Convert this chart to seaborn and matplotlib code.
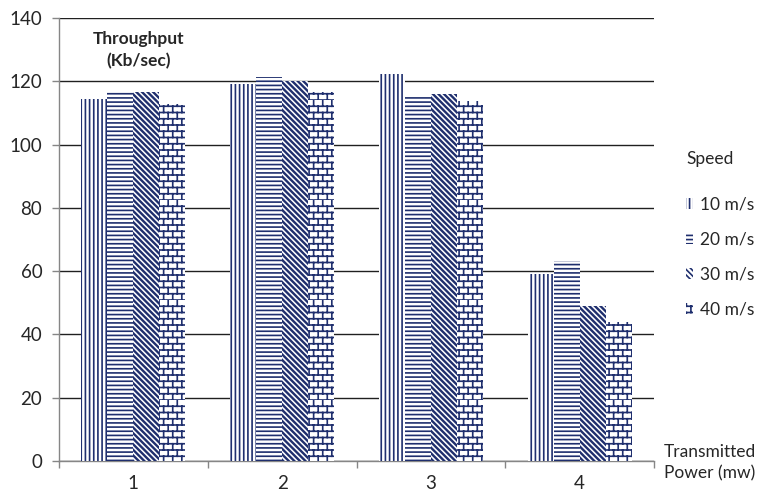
import numpy as np
import pandas as pd
import matplotlib
matplotlib.use("Agg")
import matplotlib.pyplot as plt
import matplotlib.hatch as mhatch
from matplotlib.path import Path
from matplotlib.patches import Patch
import seaborn as sns


# Brick-wall hatch, bound to the 'O' hatch character.
class BrickHatch(mhatch.HatchPatternBase):
    def __init__(self, hatch, density):
        count = hatch.count('O')
        self.rows = 16 * count
        self.cols = 11 * count
        self.num_vertices = (self.rows * 2 + self.rows * self.cols * 2) if count else 0

    def set_vertices_and_codes(self, vertices, codes):
        n, m = self.rows, self.cols
        h = 1.0 / n
        w = 1.0 / m
        k = 0
        for i in range(n):
            y = i * h
            vertices[k] = (0.0, y)
            vertices[k + 1] = (1.0, y)
            codes[k] = Path.MOVETO
            codes[k + 1] = Path.LINETO
            k += 2
            off = 0.0 if i % 2 == 0 else w / 2
            for j in range(m):
                x = (j * w + off) % 1.0
                vertices[k] = (x, y)
                vertices[k + 1] = (x, y + h)
                codes[k] = Path.MOVETO
                codes[k + 1] = Path.LINETO
                k += 2


mhatch._hatch_types = [t for t in mhatch._hatch_types
                       if t is not mhatch.LargeCircles] + [BrickHatch]

# Data
powers = ["1", "2", "3", "4"]
speeds = ["10 m/s", "20 m/s", "30 m/s", "40 m/s"]
thr_10 = [114.3, 119.2, 122.3, 59.1]
thr_20 = [117.0, 121.3, 115.5, 63.3]
thr_30 = [116.6, 120.2, 115.9, 49.0]
thr_40 = [112.8, 116.7, 113.8, 44.0]

df = pd.DataFrame({
    "power": powers * 4,
    "speed": np.repeat(speeds, 4),
    "throughput": thr_10 + thr_20 + thr_30 + thr_40,
})

hatches = ["||||", "----", "\\" * 6, "O"]
hatch_lw = [1.2, 1.2, 1.7, 1.2]
navy = "#1F2F6E"

sns.set_style("white")
plt.rcParams["font.family"] = ["Lato", "DejaVu Sans"]
plt.rcParams["hatch.linewidth"] = 1.2

FS = 13.5
LEG_FS = 12.5

fig = plt.figure(figsize=(7.59, 4.94), dpi=100)
ax = fig.add_axes([0.0777, 0.0668, 0.784, 0.8968])

sns.barplot(data=df, x="power", y="throughput", hue="speed", order=powers,
            hue_order=speeds, width=0.7, palette=["white"] * 4,
            edgecolor=navy, linewidth=0, legend=False, ax=ax, zorder=3)

for cont, h, lw in zip(ax.containers, hatches, hatch_lw):
    for bar in cont:
        bar.set_hatch(h)
        bar.set_edgecolor(navy)
        bar.set_facecolor("white")
        bar.set_linewidth(0)
        if hasattr(bar, "set_hatch_linewidth"):
            bar.set_hatch_linewidth(lw)

ax.set_ylim(0, 140)
ax.set_xlim(-0.5, 3.5)
ax.set_yticks(np.arange(0, 141, 20))
ax.yaxis.grid(True, color="#202020", linewidth=1.0, zorder=0)
ax.set_axisbelow(True)

ax.set_xticks([-0.5, 0.5, 1.5, 2.5, 3.5])
ax.set_xticklabels([])
ax.set_xticks(range(4), minor=True)
ax.set_xticklabels(powers, minor=True, fontsize=FS)
ax.tick_params(axis="x", which="major", direction="out", length=5,
               width=1, color="#868686", bottom=True)
ax.tick_params(axis="x", which="minor", length=0, pad=10)
ax.tick_params(axis="y", direction="out", length=5, width=1,
               color="#868686", left=True, labelsize=FS, pad=7)

for side in ["top", "right"]:
    ax.spines[side].set_visible(False)
for side in ["left", "bottom"]:
    ax.spines[side].set_color("#868686")
    ax.spines[side].set_linewidth(1.0)

ax.set_xlabel("")
ax.set_ylabel("")

fig.text(139 / 759, 1 - 50 / 494, "Throughput\n(Kb/sec)", ha="center",
         va="center", fontsize=12.5, fontweight="bold", linespacing=1.45)
fig.text(664 / 759, 1 - 463 / 494, "Transmitted\nPower (mw)", ha="left",
         va="center", fontsize=12.5, linespacing=1.4)

handles = [Patch(facecolor="white", edgecolor=navy, hatch=h, linewidth=0)
           for h in hatches]
leg = fig.legend(handles, speeds, title="Speed", loc="upper left",
                 bbox_to_anchor=(686 / 759, 1 - 151 / 494), frameon=False,
                 fontsize=LEG_FS, title_fontsize=LEG_FS, handlelength=0.4,
                 handleheight=0.6, handletextpad=0.4, labelspacing=1.1,
                 borderaxespad=0, borderpad=0)
leg._legend_box.align = "left"
leg._legend_box.sep = 21

fig.savefig("out.png", dpi=100)
